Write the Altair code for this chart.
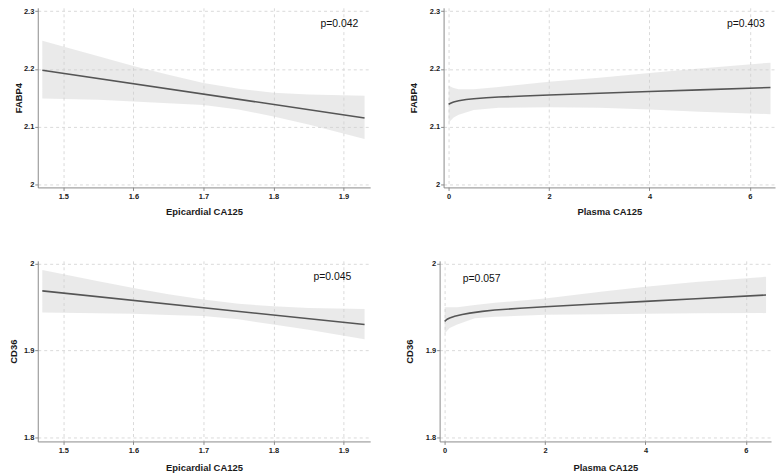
import altair as alt
import pandas as pd

FONT = "Liberation Sans"

# ---------- Panel A: FABP4 vs Epicardial CA125 ----------
a_xb = [1.47, 1.55, 1.60, 1.65, 1.70, 1.75, 1.80, 1.85, 1.93]
a_hi = [2.249, 2.222, 2.205, 2.190, 2.176, 2.166, 2.159, 2.156, 2.154]
a_lo = [2.149, 2.147, 2.144, 2.141, 2.138, 2.130, 2.118, 2.104, 2.079]
a_xl = [1.47, 1.93]
a_fit = [2.198, 2.1155]

# ---------- Panel B: FABP4 vs Plasma CA125 ----------
b_xb = [0.0, 0.1, 0.2, 0.5, 1.0, 2.0, 3.0, 4.0, 5.0, 6.41]
b_hi = [2.171, 2.167, 2.165, 2.165, 2.169, 2.178, 2.185, 2.193, 2.201, 2.211]
b_lo = [2.107, 2.116, 2.121, 2.129, 2.133, 2.134, 2.133, 2.130, 2.126, 2.122]
b_xl = [0.0, 0.05, 0.1, 0.2, 0.35, 0.5, 0.75, 1.0, 1.5, 2.0, 3.0, 4.0, 5.0, 6.41]
b_fit = [2.139, 2.1413, 2.1430, 2.1452, 2.1472, 2.1487, 2.1503, 2.1515, 2.1533,
         2.1550, 2.1580, 2.1610, 2.1640, 2.168]

# ---------- Panel C: CD36 vs Epicardial CA125 ----------
c_xb = [1.47, 1.55, 1.60, 1.65, 1.70, 1.75, 1.80, 1.85, 1.93]
c_hi = [1.993, 1.980, 1.972, 1.965, 1.959, 1.954, 1.951, 1.949, 1.948]
c_lo = [1.944, 1.943, 1.9425, 1.941, 1.940, 1.936, 1.930, 1.924, 1.913]
c_xl = [1.47, 1.93]
c_fit = [1.9688, 1.930]

# ---------- Panel D: CD36 vs Plasma CA125 ----------
d_xb = [0.0, 0.1, 0.25, 0.6, 1.0, 2.0, 3.15, 4.0, 5.0, 6.4]
d_hi = [1.950, 1.950, 1.950, 1.9525, 1.955, 1.960, 1.968, 1.9735, 1.979, 1.985]
d_lo = [1.9197, 1.926, 1.930, 1.9372, 1.939, 1.9413, 1.9418, 1.9425, 1.943, 1.9432]
d_xl = [0.0, 0.05, 0.1, 0.2, 0.35, 0.5, 0.75, 1.0, 1.5, 2.0, 3.0, 4.0, 5.0, 6.4]
d_fit = [1.9337, 1.9362, 1.9376, 1.9396, 1.9416, 1.9432, 1.9452, 1.9467, 1.9488,
         1.9505, 1.9537, 1.9567, 1.9597, 1.9640]

# axis ticks
epi_ticks = [1.5, 1.6, 1.7, 1.8, 1.9]
pla_ticks = [0, 2, 4, 6]
fabp_ticks = [2.0, 2.1, 2.2, 2.3]
cd36_ticks = [1.8, 1.9, 2.0]

# p-value annotations
p_texts = ["p=0.042", "p=0.403", "p=0.045", "p=0.057"]
p_x = [1.894, 5.92, 1.884, 0.36]
p_y = [2.278, 2.278, 1.985, 1.983]


def panel(xb, hi, lo, xl, fit, xdom, ydom, xticks, yticks, xtitle, ytitle,
          ptext, px, py, palign, w, h, ytp, xtp):
    band = pd.DataFrame({"x": xb, "lo": lo, "hi": hi})
    line = pd.DataFrame({"x": xl, "y": fit})
    ann = pd.DataFrame({"x": [px], "y": [py], "t": [ptext]})
    xs = alt.Scale(domain=xdom, nice=False, zero=False)
    ys = alt.Scale(domain=ydom, nice=False, zero=False)
    xax = alt.Axis(values=xticks, title=xtitle, format="~g", titlePadding=xtp,
                   labelPadding=2)
    yax = alt.Axis(values=yticks, title=ytitle, format="~g", titlePadding=ytp,
                   labelPadding=1)
    b = alt.Chart(band).mark_area(color="#cccccc", opacity=0.42).encode(
        x=alt.X("x:Q", scale=xs, axis=xax),
        y=alt.Y("lo:Q", scale=ys, axis=yax),
        y2="hi:Q",
    )
    l = alt.Chart(line).mark_line(color="#555555", strokeWidth=1.6).encode(
        x=alt.X("x:Q", scale=xs),
        y=alt.Y("y:Q", scale=ys),
    )
    t = alt.Chart(ann).mark_text(font=FONT, fontSize=10.5, color="#111111",
                                 align=palign, baseline="middle").encode(
        x=alt.X("x:Q", scale=xs),
        y=alt.Y("y:Q", scale=ys),
        text="t:N",
    )
    return alt.layer(b, l, t).properties(width=w, height=h)


epi_dom = [1.4635, 1.938]
pla_dom = [-0.1, 6.5]
fabp_dom = [1.9954, 2.3057]
cd36_dom = [1.7954, 2.0034]

pA = panel(a_xb, a_hi, a_lo, a_xl, a_fit, epi_dom, fabp_dom, epi_ticks, fabp_ticks,
           "Epicardial CA125", "FABP4", p_texts[0], p_x[0], p_y[0], "center",
           335, 181, 0, 7)
pB = panel(b_xb, b_hi, b_lo, b_xl, b_fit, pla_dom, fabp_dom, pla_ticks, fabp_ticks,
           "Plasma CA125", "FABP4", p_texts[1], p_x[1], p_y[1], "center",
           334, 181, 11, 7)
pC = panel(c_xb, c_hi, c_lo, c_xl, c_fit, epi_dom, cd36_dom, epi_ticks, cd36_ticks,
           "Epicardial CA125", "CD36", p_texts[2], p_x[2], p_y[2], "center",
           335, 182, 5, 9)
pD = panel(d_xb, d_hi, d_lo, d_xl, d_fit, pla_dom, cd36_dom, pla_ticks, cd36_ticks,
           "Plasma CA125", "CD36", p_texts[3], p_x[3], p_y[3], "left",
           334, 182, 11, 9)

row1 = alt.hconcat(pA, pB, spacing=37)
row2 = alt.hconcat(pC, pD, spacing=33)
chart = alt.vconcat(row1, row2, spacing=42).properties(
    padding={"left": 0, "top": -4, "right": 0, "bottom": 0}
).configure(
    font=FONT,
).configure_view(stroke="transparent").configure_axis(
    domainColor="#8a8a8a",
    tickColor="#8a8a8a",
    tickSize=3,
    gridColor="#dadada",
    gridDash=[3, 3],
    gridWidth=1,
    labelFont=FONT,
    labelFontSize=7.5,
    labelFontWeight="bold",
    labelColor="#1a1a1a",
    titleFont=FONT,
    titleFontSize=9.5,
    titleFontWeight="bold",
    titleColor="#1a1a1a",
)

chart.save("out.html", embed_options={"renderer": "svg", "actions": False})
